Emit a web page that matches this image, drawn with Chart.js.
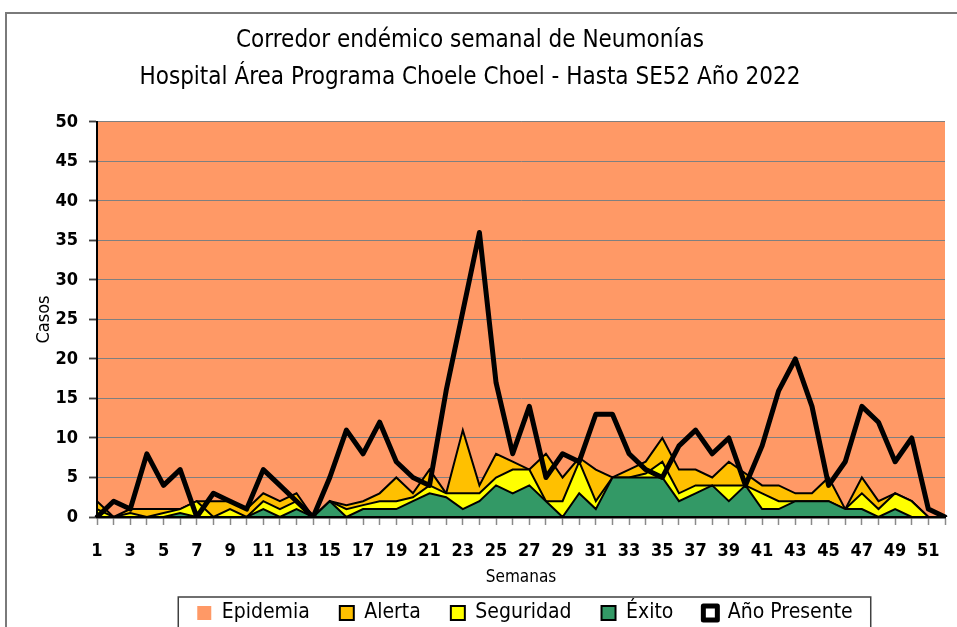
<!DOCTYPE html>
<html lang="es"><head><meta charset="utf-8"><title>Corredor endémico semanal de Neumonías</title>
<script src="https://cdn.jsdelivr.net/npm/chart.js@4.4.1/dist/chart.umd.min.js"></script>
<style>
html,body{margin:0;padding:0;background:#ffffff;overflow:hidden;}
body{width:957px;height:627px;position:relative;}
canvas{position:absolute;left:0;top:0;display:block;}
</style></head><body>
<canvas id="chart" width="957" height="660"></canvas>
<script>
// ---- Data ----
const weeks = ['1','2','3','4','5','6','7','8','9','10','11','12','13','14','15','16','17','18','19','20','21','22','23','24','25','26','27','28','29','30','31','32','33','34','35','36','37','38','39','40','41','42','43','44','45','46','47','48','49','50','51','52'];
const xTickLabels = ['1','3','5','7','9','11','13','15','17','19','21','23','25','27','29','31','33','35','37','39','41','43','45','47','49','51'];
// Año Presente (casos semanales 2022)
const anioPresente = [0,2,1,8,4,6,0,3,2,1, 6,4,2,0,5,11,8,12,7,5, 4,16,26,36,17,8,14,5,8,7, 13,13,8,6,5,9,11,8,10,4, 9,16,20,14,4,7,14,12,7,10, 1,0];
// Límite superior zona de Éxito (percentil 25)
const exitoTop = [0,0,0,0,0,0.5,0,0,0,0, 1,0,1,0,2,0,1,1,1,2, 3,2.5,1,2,4,3,4,2,0,3, 1,5,5,5,5,2,3,4,2,4, 1,1,2,2,2,1,1,0,1,0, 0,0];
// Límite superior zona de Seguridad (mediana)
const seguridadTop = [1,0,0.5,0,0.5,1,2,0,1,0, 2,1,2,0,2,1,1.5,2,2,2.5, 4,3,3,3,5,6,6,2,2,7, 2,5,5,5.5,7,3,4,4,4,4, 3,2,2,2,2,1,3,1,3,2, 0,0];
// Límite superior zona de Alerta (percentil 75); por encima: Epidemia
const alertaTop = [2,0,1,1,1,1,2,2,2,1, 3,2,3,0,2,1.5,2,3,5,3, 6,3,11,4,8,7,6,8,5,7.5, 6,5,6,7,10,6,6,5,7,5.5, 4,4,3,3,5,1,5,2,3,2, 0,0];

const titleLines = ['Corredor endémico semanal de Neumonías', 'Hospital Área Programa Choele Choel - Hasta SE52 Año 2022'];

const FONT = "'DejaVu Sans Condensed','Liberation Sans Narrow','Arial Narrow',sans-serif";
Chart.defaults.font.family = FONT;
Chart.defaults.color = '#000';

const LEGEND_FONT = 21, LEGEND_PAD = 30;

const decor = {
  id: 'decor',
  beforeDraw(chart) {
    const ctx = chart.ctx;
    ctx.save();
    ctx.strokeStyle = '#7a7a7a';
    ctx.lineWidth = 2;
    ctx.beginPath();
    ctx.moveTo(6, chart.height + 10);
    ctx.lineTo(6, 13);
    ctx.lineTo(chart.width + 10, 13);
    ctx.stroke();
    ctx.restore();
  },
  afterLayout(chart) {
    const lg = chart.legend;
    if (lg) {
      const dx = 525 - (lg.left + lg.right) / 2;
      const dy = 613 - (lg.top + LEGEND_PAD + LEGEND_FONT / 2);
      lg.left += dx; lg.right += dx;
      lg.top += dy; lg.bottom += dy;
    }
    const tb = chart.titleBlock;
    if (tb) {
      const dx = 470 - (tb.left + tb.right) / 2;
      tb.left += dx; tb.right += dx;
    }
  },
  afterDatasetDraw(chart, args) {
    if (args.index === 0) {
      chart.scales.y.drawGrid(chart.chartArea);
    }
  },
  afterDraw(chart) {
    const lg = chart.legend;
    if (!lg || !lg.legendHitBoxes || !lg.legendHitBoxes.length) return;
    const hb = lg.legendHitBoxes;
    const first = hb[0], last = hb[hb.length - 1];
    const x0 = first.left - 19, x1 = last.left + last.width + 18;
    const yc = first.top + first.height / 2;
    const ctx = chart.ctx;
    ctx.save();
    ctx.strokeStyle = '#404040';
    ctx.lineWidth = 1.5;
    ctx.strokeRect(x0, yc - 16, x1 - x0, 80);
    ctx.restore();
  }
};

new Chart(document.getElementById('chart'), {
  type: 'line',
  data: {
    labels: weeks,
    datasets: [
      { label: 'Epidemia', data: alertaTop, fill: 'end', backgroundColor: '#FF9966', borderColor: 'rgba(0,0,0,0)', borderWidth: 0, pointRadius: 0, order: 4 },
      { label: 'Alerta', data: alertaTop, fill: 'origin', backgroundColor: '#FFC000', borderColor: '#000000', borderWidth: 2, pointRadius: 0, order: 3 },
      { label: 'Seguridad', data: seguridadTop, fill: 'origin', backgroundColor: '#FFFF00', borderColor: '#000000', borderWidth: 2, pointRadius: 0, order: 2 },
      { label: 'Éxito', data: exitoTop, fill: 'origin', backgroundColor: '#339966', borderColor: '#000000', borderWidth: 2, pointRadius: 0, order: 1 },
      { label: 'Año Presente', data: anioPresente, fill: false, backgroundColor: '#ffffff', borderColor: '#000000', borderWidth: 5, pointRadius: 0, order: 0, borderJoinStyle: 'round', borderCapStyle: 'round' }
    ]
  },
  options: {
    responsive: false,
    animation: false,
    devicePixelRatio: 1,
    events: [],
    layout: { padding: { left: 0, right: 12, top: 0, bottom: 0 } },
    elements: { line: { tension: 0 } },
    plugins: {
      title: { display: true, text: titleLines, font: { size: 24, weight: 'normal', lineHeight: 1.52 }, color: '#000', padding: { top: 23, bottom: 26 } },
      legend: { display: true, position: 'bottom', reverse: true,
        labels: { font: { size: LEGEND_FONT }, boxWidth: 14, boxHeight: 14, padding: LEGEND_PAD, color: '#000' } },
      tooltip: { enabled: false }
    },
    scales: {
      x: {
        type: 'category', offset: false,
        grid: { display: true, drawOnChartArea: false, drawTicks: true, tickLength: 8, tickColor: '#8a8a8a', tickWidth: 1.5 },
        border: { display: true, color: '#000', width: 2.5, z: 1 },
        ticks: { autoSkip: false, maxRotation: 0, minRotation: 0, padding: 16, font: { size: 18, weight: 'bold' }, color: '#000',
          callback: function (v, i) { return xTickLabels.includes(weeks[i]) ? weeks[i] : ''; } },
        title: { display: true, text: 'Semanas', font: { size: 17 }, color: '#000', padding: { top: 0, bottom: 11 } },
        afterFit: function (s) { s.height = 82; s.paddingLeft = 0; s.paddingRight = 0; }
      },
      y: {
        min: 0, max: 50,
        ticks: { stepSize: 5, padding: 11, font: { size: 18, weight: 'bold' }, color: '#000' },
        grid: { color: '#7f7f7f', lineWidth: 1, tickLength: 8, tickColor: '#404040', tickWidth: 1.5 },
        border: { display: true, color: '#000', width: 2, z: 1 },
        title: { display: true, text: 'Casos', font: { size: 18 }, color: '#000', padding: { top: 34, bottom: 0 } },
        afterFit: function (s) { s.width = 97; }
      }
    }
  },
  plugins: [decor]
});
</script>
</body></html>
